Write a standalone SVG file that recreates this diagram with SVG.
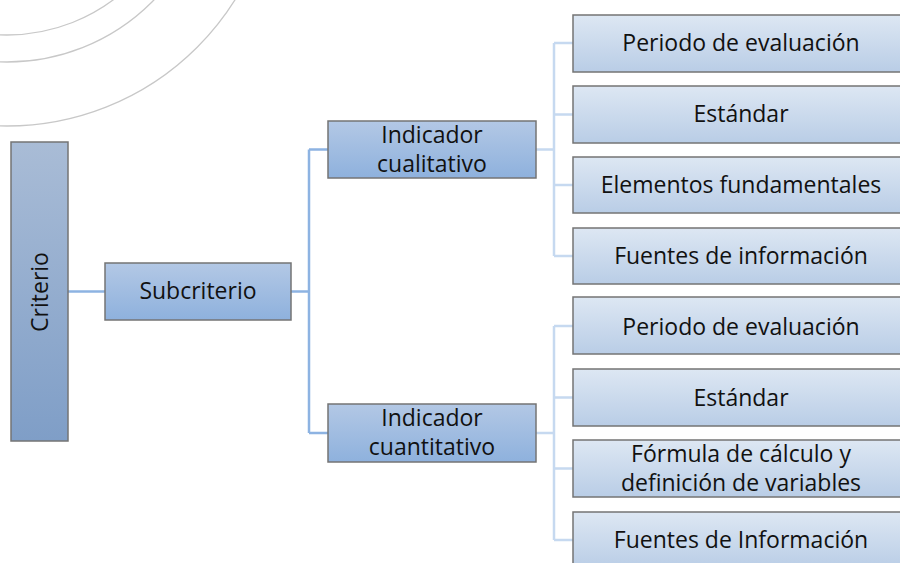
<svg xmlns="http://www.w3.org/2000/svg" width="900" height="563" viewBox="0 0 900 563">
<defs>
<linearGradient id="gCrit" x1="0" y1="0" x2="0" y2="1"><stop offset="0" stop-color="#a9bcd6"/><stop offset="1" stop-color="#7f9ec7"/></linearGradient>
<linearGradient id="gMid" x1="0" y1="0" x2="0" y2="1"><stop offset="0" stop-color="#b3c8e5"/><stop offset="1" stop-color="#8eb1dd"/></linearGradient>
<linearGradient id="gLeaf" x1="0" y1="0" x2="0" y2="1"><stop offset="0" stop-color="#dde7f3"/><stop offset="1" stop-color="#b9cde6"/></linearGradient>
</defs>
<style>
.box{stroke:#747474;stroke-width:1.5}
.crit{fill:url(#gCrit)}
.mid{fill:url(#gMid)}
.leaf{fill:url(#gLeaf)}
.t{font-family:"Open Sans","Noto Sans",sans-serif;font-size:23px;fill:#111;text-anchor:middle}
.c1{fill:none;stroke:#8db3e2;stroke-width:2.5}
.c2{fill:none;stroke:#c6d9f0;stroke-width:2.5}
.arc{fill:none;stroke:#c8c8c8;stroke-width:1.3}
</style>
<rect width="900" height="563" fill="#ffffff"/>
<g id="background-arcs">
<circle class="arc" cx="7" cy="-143" r="178"/>
<circle class="arc" cx="7" cy="-143" r="205"/>
<circle class="arc" cx="7" cy="-143" r="269"/>
</g>
<g id="connectors">
<path class="c1" d="M68 291.5H105"/>
<path class="c1" d="M291 291.5H309M309 149.5V433M309 149.5H328M309 433H328"/>
<path class="c2" d="M536 149.5H554M554 43V256M554 43H573M554 114.5H573M554 185H573M554 256H573"/>
<path class="c2" d="M536 433H554M554 326V540M554 326H573M554 397.5H573M554 468.5H573M554 540H573"/>
</g>
<g id="criterio">
<rect class="box crit" x="11" y="142" width="57" height="299"/>
<text class="t" transform="translate(47.5 292) rotate(-90)">Criterio</text>
</g>
<g id="subcriterio">
<rect class="box mid" x="105" y="263" width="186" height="57"/>
<text class="t" x="198" y="299">Subcriterio</text>
</g>
<g id="indicador-cualitativo">
<rect class="box mid" x="328" y="121" width="208" height="57"/>
<text class="t" x="432" y="143">Indicador</text>
<text class="t" x="432" y="172">cualitativo</text>
</g>
<g id="indicador-cuantitativo">
<rect class="box mid" x="328" y="404" width="208" height="58"/>
<text class="t" x="432" y="426">Indicador</text>
<text class="t" x="432" y="455">cuantitativo</text>
</g>
<g id="cual-periodo">
<rect class="box leaf" x="573" y="15" width="336" height="57"/>
<text class="t" x="741" y="51">Periodo de evaluación</text>
</g>
<g id="cual-estandar">
<rect class="box leaf" x="573" y="86" width="336" height="57"/>
<text class="t" x="741" y="122">Estándar</text>
</g>
<g id="cual-elementos">
<rect class="box leaf" x="573" y="157" width="336" height="56"/>
<text class="t" x="741" y="193">Elementos fundamentales</text>
</g>
<g id="cual-fuentes">
<rect class="box leaf" x="573" y="228" width="336" height="56"/>
<text class="t" x="741" y="264">Fuentes de información</text>
</g>
<g id="cuan-periodo">
<rect class="box leaf" x="573" y="297" width="336" height="57"/>
<text class="t" x="741" y="335">Periodo de evaluación</text>
</g>
<g id="cuan-estandar">
<rect class="box leaf" x="573" y="369" width="336" height="57"/>
<text class="t" x="741" y="406">Estándar</text>
</g>
<g id="cuan-formula">
<rect class="box leaf" x="573" y="440" width="336" height="57"/>
<text class="t" x="741" y="462">Fórmula de cálculo y</text>
<text class="t" x="741" y="491">definición de variables</text>
</g>
<g id="cuan-fuentes">
<rect class="box leaf" x="573" y="512" width="336" height="57"/>
<text class="t" x="741" y="548">Fuentes de Información</text>
</g>
</svg>
